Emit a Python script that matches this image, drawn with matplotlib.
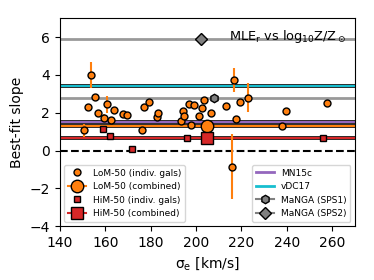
import numpy as np
import matplotlib.pyplot as plt
import matplotlib.patheffects as pe

# LoM-50 individual galaxies
lom_sig = [150.6, 152.3, 153.7, 155.4, 156.6, 159.5, 160.8, 162.5, 163.9, 167.9,
           169.4, 176.4, 177.0, 179.3, 182.6, 183.3, 193.2, 194.3, 194.8, 197.0,
           198.0, 199.2, 201.1, 202.8, 203.6, 206.8, 213.1, 215.9, 216.8, 217.5,
           219.3, 222.7, 237.7, 239.6, 257.5]
lom_slope = [1.08, 2.33, 4.01, 2.82, 1.98, 1.74, 2.44, 1.63, 2.17, 1.93,
             1.86, 1.10, 2.33, 2.56, 1.77, 1.98, 1.59, 2.08, 1.82, 2.44,
             1.37, 2.43, 1.82, 2.26, 2.68, 1.98, 2.38, -0.86, 3.74, 1.68,
             2.59, 2.79, 1.32, 2.07, 2.53]
lom_err = [0.35, 0.1, 0.7, 0.1, 0.1, 0.2, 0.45, 0.1, 0.1, 0.1,
           0.1, 0.1, 0.1, 0.1, 0.1, 0.1, 0.1, 0.1, 0.15, 0.1,
           0.1, 0.1, 0.15, 0.1, 0.15, 0.1, 0.1, 1.72, 0.62, 0.1,
           0.1, 0.76, 0.1, 0.1, 0.1]

# HiM-50 individual galaxies
him_sig = [158.8, 162.3, 172.0, 196.2, 256.0]
him_slope = [1.12, 0.79, 0.08, 0.68, 0.68]

# combined fits
lom_comb_sig, lom_comb = 205.0, 1.31
him_comb_sig, him_comb = 205.0, 0.66

# literature / MaNGA
mn15c = 1.51
vdc17 = 3.42
sps1_sig, sps1 = 208.1, 2.79
sps2_sig, sps2 = 202.0, 5.92

orange = '#ff7f0e'
red = '#d62728'
purple = '#9467bd'
cyan = '#17becf'
gray = '#808080'

def outline(lw):
    return [pe.Stroke(linewidth=lw + 1.3, foreground='#222222'), pe.Normal()]

fig = plt.figure(figsize=(3.74, 2.8), dpi=100)
ax = fig.add_axes([0.16, 0.192, 0.789, 0.743])

ax.axhline(0, color='k', ls='--', lw=1.5, zorder=1)
ax.axhline(sps2, color='#999999', lw=2, zorder=1)
ax.axhline(sps1, color='#999999', lw=2, zorder=1)
ax.axhline(vdc17, color=cyan, lw=1.5, zorder=2, path_effects=outline(1.5))
ax.axhline(mn15c, color=purple, lw=1.5, zorder=2, path_effects=outline(1.5))
ax.axhline(lom_comb, color=orange, lw=1.5, zorder=2, path_effects=outline(1.5))
ax.axhline(him_comb, color=red, lw=1.5, zorder=2, path_effects=outline(1.5))

ax.errorbar(lom_sig, lom_slope, yerr=lom_err, fmt='none', ecolor=orange,
            elinewidth=1.5, zorder=3)
h1, = ax.plot(lom_sig, lom_slope, 'o', color=orange, mec='k', mew=1, ms=5,
              zorder=4, label='LoM-50 (indiv. gals)')
h2, = ax.plot([lom_comb_sig], [lom_comb], 'o-', color=orange, mec='k', mew=1,
              ms=9, zorder=5, label='LoM-50 (combined)')
h3, = ax.plot(him_sig, him_slope, 's', color=red, mec='k', mew=1, ms=5,
              zorder=4, label='HiM-50 (indiv. gals)')
h4, = ax.plot([him_comb_sig], [him_comb], 's-', color=red, mec='k', mew=1,
              ms=9, zorder=5, label='HiM-50 (combined)')

ax.errorbar([sps1_sig], [sps1], yerr=[0.15], fmt='none', ecolor=gray,
            elinewidth=1.5, zorder=3)
h7, = ax.plot([sps1_sig], [sps1], 'h-', color=gray, mec='k', mew=1, ms=6,
              zorder=5, label='MaNGA (SPS1)')
h8, = ax.plot([sps2_sig], [sps2], 'D-', color=gray, mec='k', mew=1, ms=6,
              zorder=5, label='MaNGA (SPS2)')
h5, = ax.plot([], [], color=purple, lw=2, label='MN15c')
h6, = ax.plot([], [], color=cyan, lw=2, label='vDC17')

ax.set_xlim(140, 270)
ax.set_ylim(-4, 7)
ax.set_xticks([140, 160, 180, 200, 220, 240, 260])
ax.set_yticks([-4, -2, 0, 2, 4, 6])
ax.set_xlabel('σ$_{\\rm e}$ [km/s]', fontsize=10)
ax.set_ylabel('Best-fit slope', fontsize=10)

ax.text(0.97, 0.955, r'MLE$_{\rm r}$ vs log$_{10}$Z/Z$_\odot$',
        transform=ax.transAxes, ha='right', va='top', fontsize=9.3)

leg1 = ax.legend(handles=[h1, h2, h3, h4], loc='lower left', fontsize=6.5,
                 bbox_to_anchor=(0.0, 0.0))
ax.add_artist(leg1)
ax.legend(handles=[h5, h6, h7, h8], loc='lower right', fontsize=6.5,
          bbox_to_anchor=(1.0, 0.0))

fig.savefig('out.png', dpi=100)
